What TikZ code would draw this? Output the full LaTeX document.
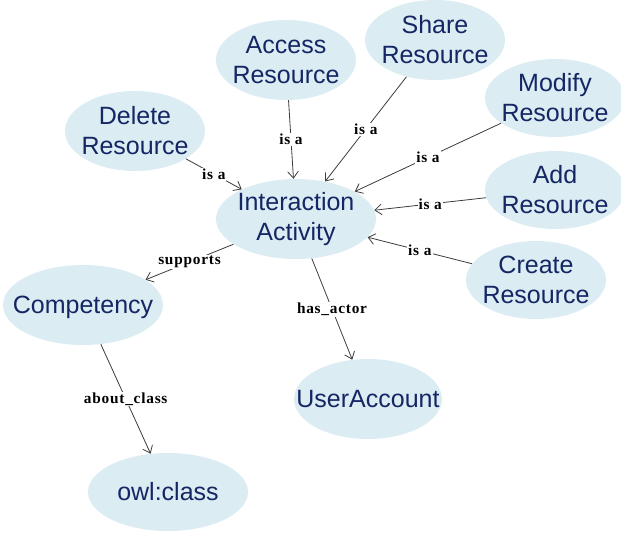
\documentclass[tikz,border=0pt]{standalone}
\usepackage{fontspec}
\setmainfont{Liberation Sans}
\newfontfamily\lblfont[LetterSpace=5]{Liberation Serif}
\usetikzlibrary{shapes.geometric,arrows.meta}
\definecolor{blobfill}{RGB}{219,236,243}
\definecolor{blobtext}{RGB}{20,38,100}
\definecolor{edgecol}{RGB}{60,60,60}
\tikzset{
  blob/.style={ellipse, fill=blobfill, draw=none, inner sep=0pt},
  blobtxt/.style={align=center, text=blobtext, inner sep=0pt, font=\fontsize{18.75}{22.5}\selectfont},
  rel/.style={draw=edgecol, line width=0.6pt, -{Straight Barb[length=5pt,width=8pt]}},
  rellbl/.style={fill=white, inner sep=0.8pt, text=black, font=\lblfont\bfseries\fontsize{11.5}{13}\selectfont}
}
\begin{document}
\begin{tikzpicture}[x=0.75pt,y=-0.75pt]
\useasboundingbox (0,0) rectangle (621,535);
% ellipses
\node[blob, minimum width=105pt, minimum height=60pt] (acc) at (286,60) {};
\node[blob, minimum width=105pt, minimum height=60pt] (share) at (435,40) {};
\node[blob, minimum width=105pt, minimum height=60pt] (del) at (135,131) {};
\node[blob, minimum width=105pt, minimum height=58.5pt] (mod) at (555,98) {};
\node[blob, minimum width=105pt, minimum height=58.5pt] (add) at (555,190) {};
\node[blob, minimum width=120pt, minimum height=60pt] (ia) at (296,219) {};
\node[blob, minimum width=105pt, minimum height=58.5pt] (cre) at (536,280) {};
\node[blob, minimum width=120pt, minimum height=60pt] (comp) at (83,305) {};
\node[blob, minimum width=111pt, minimum height=60pt] (user) at (368,399) {};
\node[blob, minimum width=120pt, minimum height=58.5pt] (owl) at (168,492) {};
% texts
\node[blobtxt] (acc-t) at (acc) {Access\\Resource};
\node[blobtxt] (share-t) at (share) {Share\\Resource};
\node[blobtxt] (del-t) at (del) {Delete\\Resource};
\node[blobtxt] (mod-t) at (mod) {Modify\\Resource};
\node[blobtxt] (add-t) at (add) {Add\\Resource};
\node[blobtxt] (ia-t) at (ia) {Interaction\\Activity};
\node[blobtxt] (cre-t) at (cre) {Create\\Resource};
\node[blobtxt] (comp-t) at ([yshift=-2pt]comp) {Competency};
\node[blobtxt] (user-t) at (user) {UserAccount};
\node[blobtxt] (owl-t) at (owl) {owl:class};
% connectors
\draw[rel] (acc) -- node[rellbl] {is a} (ia);
\draw[rel] (share) -- node[rellbl] {is a} (ia);
\draw[rel] (del) -- node[rellbl] {is a} (ia);
\draw[rel] (mod) -- node[rellbl] {is a} (ia);
\draw[rel] (add) -- node[rellbl] {is a} (ia);
\draw[rel] (cre) -- node[rellbl] {is a} (ia);
\draw[rel] (ia) -- node[rellbl] {supports} (comp);
\draw[rel] (ia) -- node[rellbl] {has\_actor} (user);
\draw[rel] (comp) -- node[rellbl] {about\_class} (owl);
\end{tikzpicture}
\end{document}
